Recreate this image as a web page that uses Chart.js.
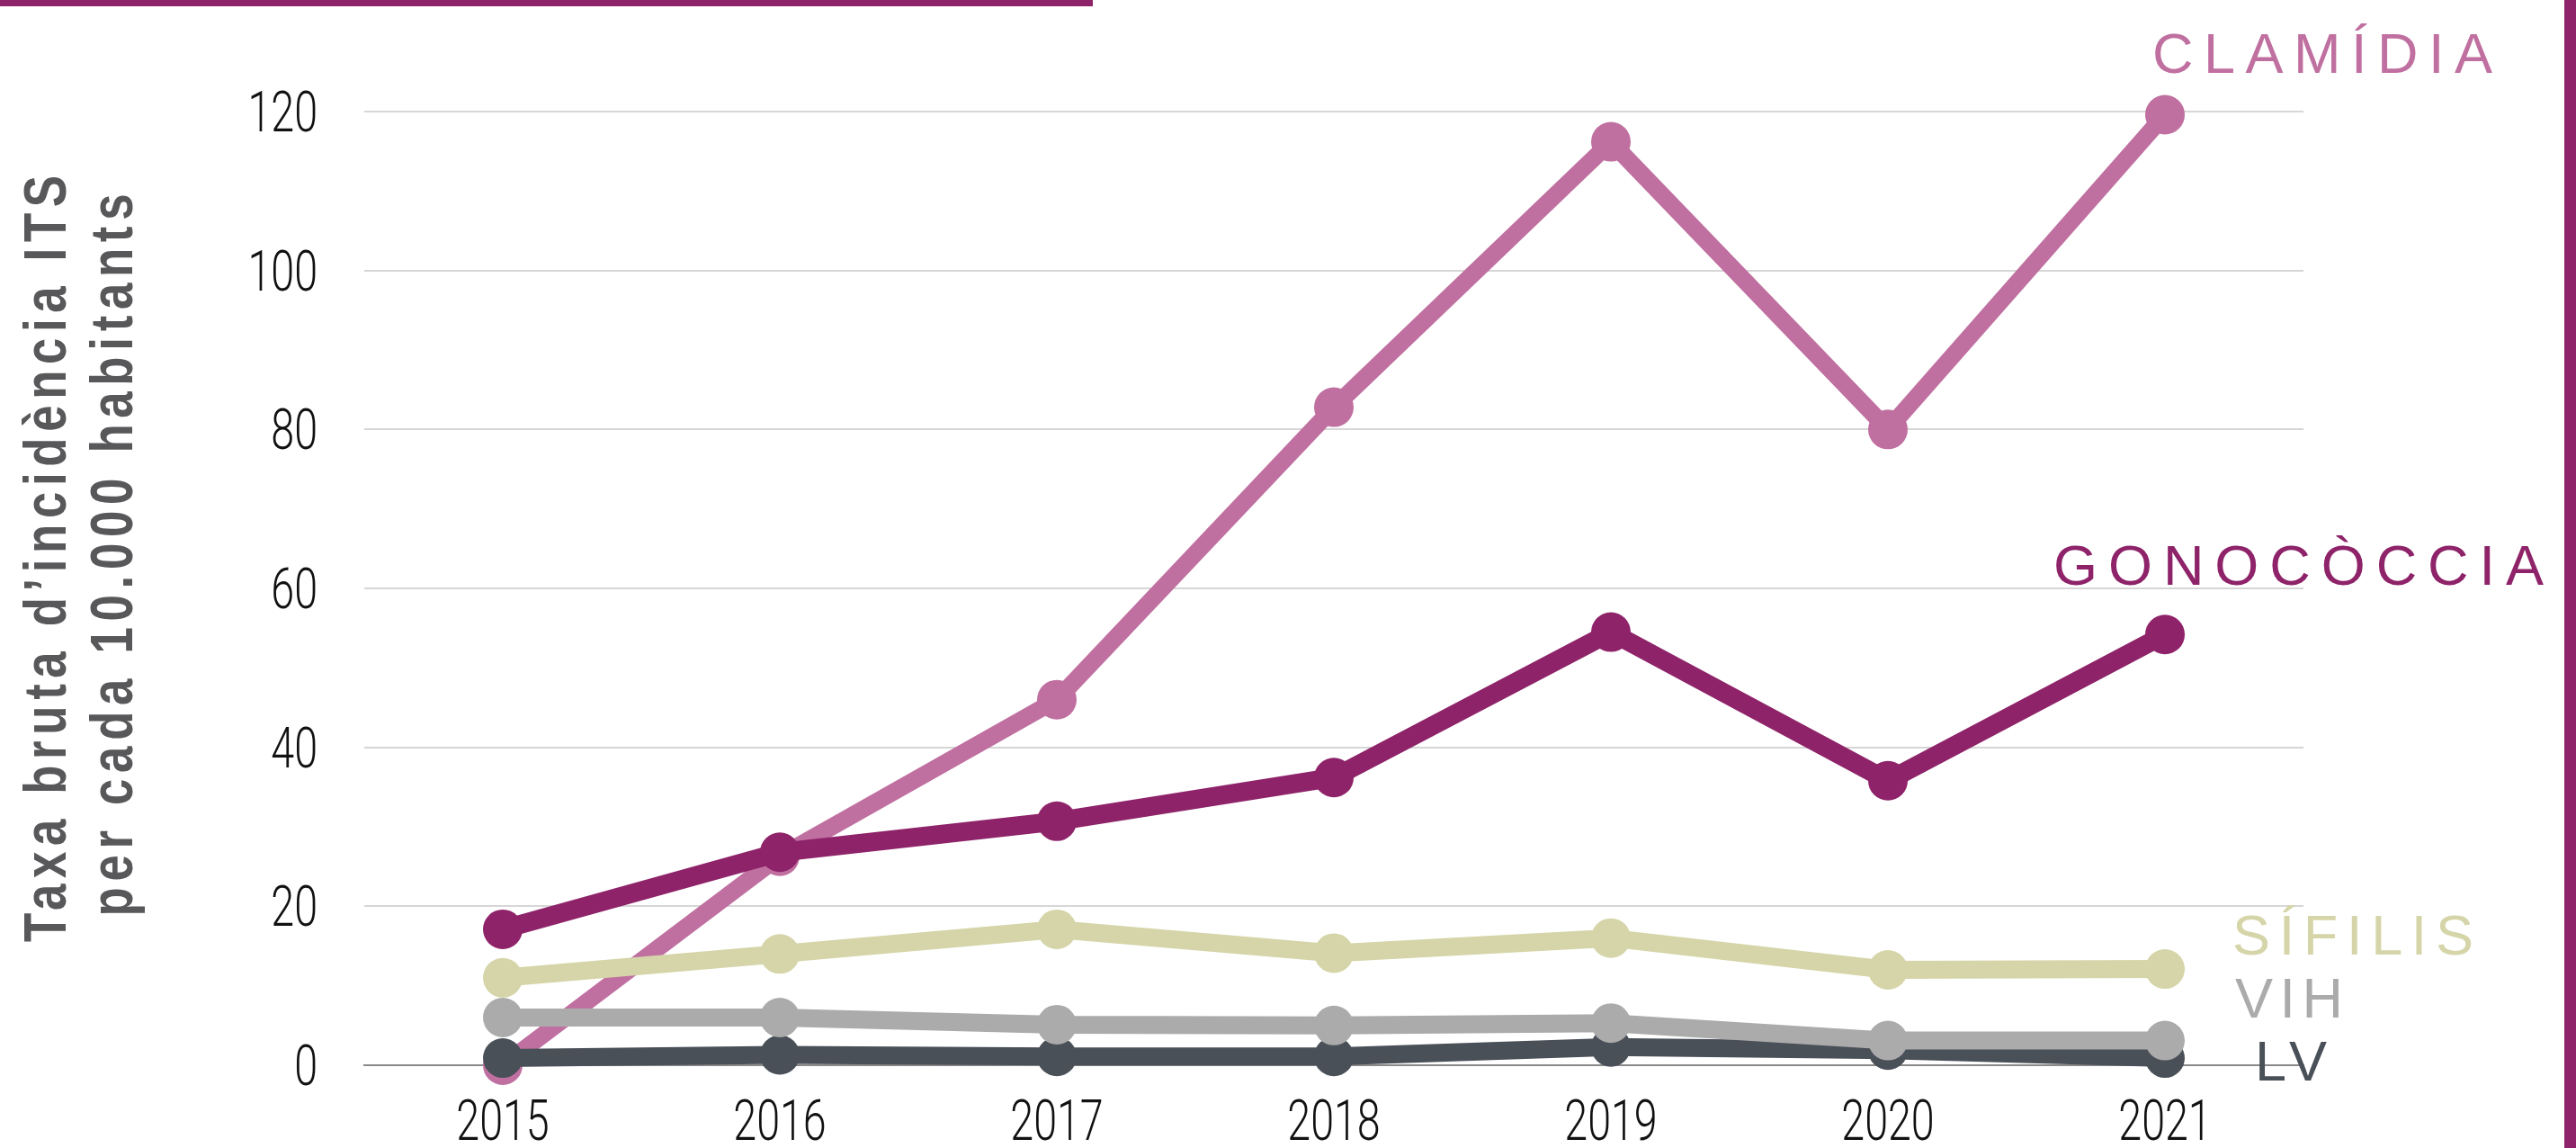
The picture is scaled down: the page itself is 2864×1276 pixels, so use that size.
<!DOCTYPE html>
<html>
<head>
<meta charset="utf-8">
<script src="https://cdn.jsdelivr.net/npm/chart.js@4.4.1/dist/chart.umd.min.js"></script>
<style>
  html, body { margin: 0; padding: 0; background: #fff; }
  #wrap { position: relative; width: 2864px; height: 1276px; overflow: hidden; }
  #topBar { position: absolute; left: 0; top: 0; width: 1215px; height: 7px; background: #8e2369; }
  #sideBar { position: absolute; left: 2851px; top: 0; width: 13px; height: 1276px; background: #8e2369; }
  canvas { position: absolute; left: 0; top: 0; }
</style>
</head>
<body>
<div id="wrap">
  <canvas id="itsChart" width="2864" height="1276"></canvas>
  <div id="topBar"></div>
  <div id="sideBar"></div>
</div>
<script>
'use strict';

const YEARS      = ['2015', '2016', '2017', '2018', '2019', '2020', '2021'];
const CLAMIDIA   = [0, 26.3, 46, 82.8, 116.2, 80, 119.6];
const GONOCOCCIA = [17.1, 26.8, 30.7, 36.2, 54.5, 35.8, 54.2];
const SIFILIS    = [11, 14, 17.1, 14.1, 16, 12, 12.1];
const VIH        = [6, 6, 5.1, 5, 5.3, 3.1, 3.1];
const LV         = [0.9, 1.3, 1.1, 1.1, 2.3, 1.9, 0.9];

const Y_MIN = 0;
const Y_MAX = 120;
const Y_STEP = 20;

const COLORS = {
  clamidia:   '#c070a0',
  gonococcia: '#8e2369',
  sifilis:    '#d5d5a9',
  vih:        '#ababab',
  lv:         '#4a5058',
  title:      '#58585a',
  tick:       '#111111',
  grid:       '#d6d6d6',
  zero:       '#8a8a8a',
};

// thin condensed look for tick labels: light face squeezed horizontally
const THIN_FONT = "300 63px Roboto, 'DejaVu Sans', sans-serif";
const THIN_SQUEEZE = 0.74;
const CAPS_FONT = "63px 'Liberation Sans', Arial, sans-serif";

// series name labels, placed relative to the series' last point
const SERIES_LABELS = [
  { text: 'CLAMÍDIA',   color: COLORS.clamidia,   data: CLAMIDIA,   dx: -14,  dy: -47, width: 378 },
  { text: 'GONOCÒCCIA', color: COLORS.gonococcia, data: GONOCOCCIA, dx: -124, dy: -55, width: 545 },
  { text: 'SÍFILIS',    color: COLORS.sifilis,    data: SIFILIS,    dx: 75,   dy: -16, width: 268 },
  { text: 'VIH',        color: COLORS.vih,        data: VIH,        dx: 78,   dy: -26, width: 120 },
  { text: 'LV',         color: COLORS.lv,         data: LV,         dx: 100,  dy: 25,  width: 80 },
];

const TITLE_LINES = [
  { text: 'Taxa bruta d\u2019incidència ITS', x: 73,  y: 621, width: 852 },
  { text: 'per cada 10.000 habitants',        x: 147, y: 617, width: 803 },
];

// draws text stretched to a given width by letter spacing, optionally squeezed
function drawSpaced(ctx, text, o) {
  const sq = o.squeeze || 1;
  ctx.save();
  ctx.font = o.font;
  ctx.fillStyle = o.color;
  ctx.letterSpacing = '0px';
  ctx.textAlign = 'left';
  ctx.textBaseline = 'alphabetic';
  const n = Array.from(text).length;
  const w0 = ctx.measureText(text).width * sq;
  const ls = n > 1 ? (o.width - w0) / (n - 1) : 0;
  ctx.translate(o.x, o.y);
  if (o.rotate) ctx.rotate(o.rotate);
  ctx.scale(sq, 1);
  ctx.letterSpacing = (ls / sq) + 'px';
  ctx.fillText(text, o.center ? -o.width / 2 / sq : 0, 0);
  ctx.restore();
}

function drawSqueezed(ctx, text, x, y, align) {
  ctx.save();
  ctx.font = THIN_FONT;
  ctx.fillStyle = COLORS.tick;
  ctx.textAlign = align;
  ctx.textBaseline = 'alphabetic';
  ctx.translate(x, y);
  ctx.scale(THIN_SQUEEZE, 1);
  ctx.fillText(text, 0, 0);
  ctx.restore();
}

const tickLabelPlugin = {
  id: 'tickLabels',
  afterDraw(chart) {
    const { ctx, scales: { x, y } } = chart;
    y.ticks.forEach(t => {
      drawSqueezed(ctx, String(t.value), y.right - 52, y.getPixelForValue(t.value) + 22, 'right');
    });
    x.ticks.forEach(t => {
      drawSqueezed(ctx, x.getLabelForValue(t.value), x.getPixelForValue(t.value), x.top + 83, 'center');
    });
  },
};

const seriesLabelPlugin = {
  id: 'seriesLabels',
  afterDatasetsDraw(chart) {
    const { ctx, scales: { x, y } } = chart;
    SERIES_LABELS.forEach(l => {
      const last = l.data.length - 1;
      drawSpaced(ctx, l.text, {
        x: x.getPixelForValue(last) + l.dx,
        y: y.getPixelForValue(l.data[last]) + l.dy,
        font: CAPS_FONT, color: l.color, width: l.width,
      });
    });
  },
};

const axisTitlePlugin = {
  id: 'axisTitle',
  afterDraw(chart) {
    TITLE_LINES.forEach(t => {
      drawSpaced(chart.ctx, t.text, {
        x: t.x, y: t.y, width: t.width, center: true, rotate: -Math.PI / 2,
        font: "bold 66px 'Liberation Sans', Arial, sans-serif",
        color: COLORS.title, squeeze: 0.8,
      });
    });
  },
};

function lineSet(data, color, width) {
  return {
    data,
    borderColor: color,
    backgroundColor: color,
    borderWidth: width,
    pointRadius: 22,
    pointHoverRadius: 22,
    pointBorderWidth: 0,
    pointBackgroundColor: color,
    tension: 0,
    clip: false,
  };
}

new Chart(document.getElementById('itsChart'), {
  type: 'line',
  data: {
    labels: YEARS,
    // first dataset is drawn on top
    datasets: [
      lineSet(GONOCOCCIA, COLORS.gonococcia, 21),
      lineSet(SIFILIS, COLORS.sifilis, 20),
      lineSet(VIH, COLORS.vih, 20),
      lineSet(LV, COLORS.lv, 20),
      lineSet(CLAMIDIA, COLORS.clamidia, 19),
    ],
  },
  options: {
    responsive: false,
    animation: false,
    events: [],
    layout: { padding: { left: 0, right: 303, top: 124, bottom: 0 } },
    plugins: {
      legend: { display: false },
      tooltip: { enabled: false },
      title: { display: false },
    },
    scales: {
      x: {
        offset: true,
        grid: { display: false, drawTicks: false },
        border: { display: true, color: COLORS.zero, width: 2 },
        ticks: { display: false },
        afterFit(scale) { scale.height = 92; },
      },
      y: {
        min: Y_MIN,
        max: Y_MAX,
        grid: {
          color: ctx => (ctx.tick && ctx.tick.value === 0 ? 'rgba(0,0,0,0)' : COLORS.grid),
          lineWidth: 2,
          drawTicks: false,
        },
        border: { display: false },
        ticks: { stepSize: Y_STEP, display: false },
        afterFit(scale) { scale.width = 405; },
      },
    },
  },
  plugins: [seriesLabelPlugin, axisTitlePlugin, tickLabelPlugin],
});
</script>
</body>
</html>
